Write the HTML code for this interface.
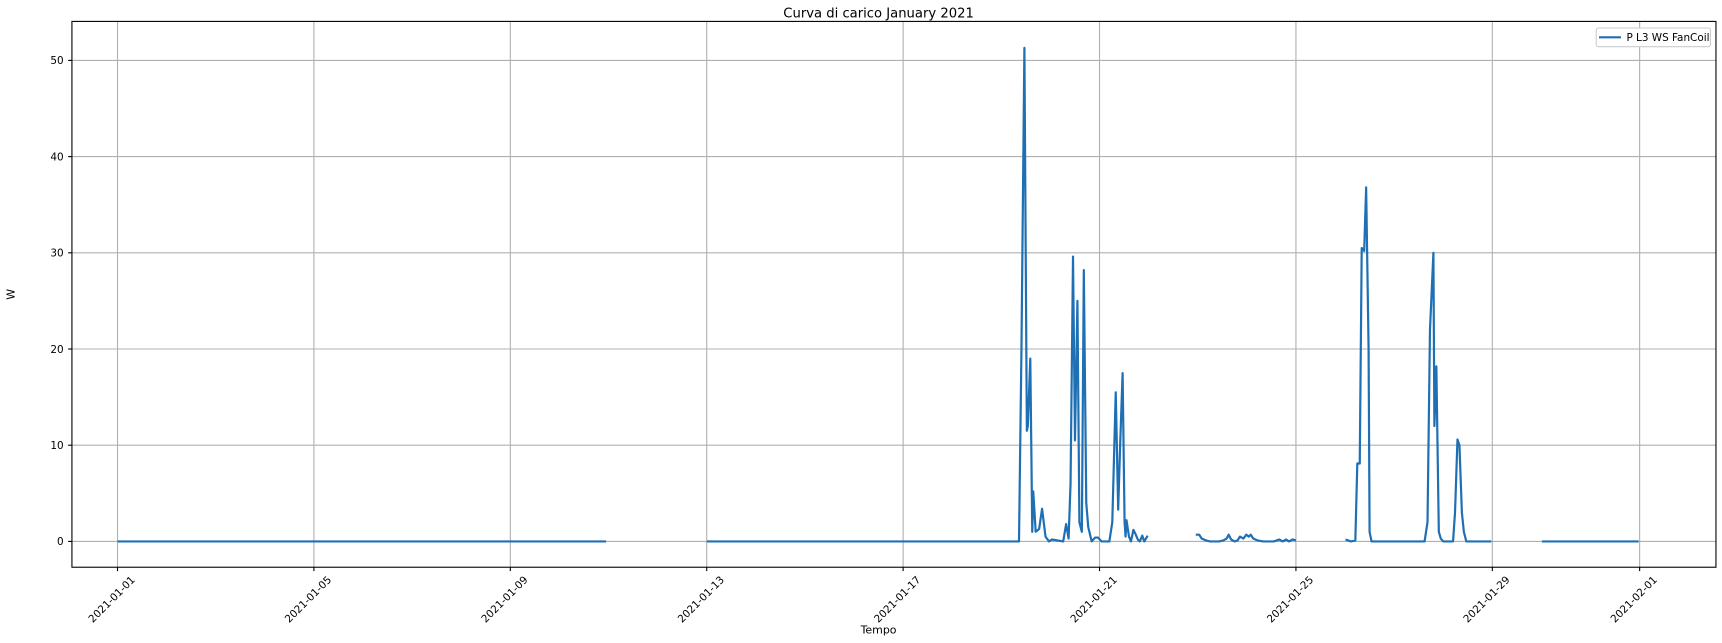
<!DOCTYPE html>
<html><head><meta charset="utf-8"><style>
body{margin:0;background:#fff;}
svg{display:block;font-family:"DejaVu Sans","Liberation Sans",sans-serif;}
</style></head><body>
<svg id="chart" width="1722" height="643" viewBox="0 0 1568 585.5" preserveAspectRatio="none">
<rect x="0" y="0" width="1568" height="585.5" fill="#fff"/>
<text x="800" y="16" font-size="12" text-anchor="middle">Curva di carico January 2021</text>
<text x="800" y="577" font-size="10" text-anchor="middle">Tempo</text>
<text x="13" y="268" font-size="10" text-anchor="middle" transform="rotate(-90 13 268)">W</text>
<g id="grid"></g><g id="ticks"></g><g id="series"></g>
<rect x="65.5" y="19.5" width="1497" height="497" fill="none" stroke="#000" stroke-width="1"/>
<g>
<rect x="1453.5" y="25.5" width="104" height="17" rx="2" fill="#fff" stroke="#ccc"/>
<line x1="1456" y1="34" x2="1476" y2="34" stroke="#1f6fb4" stroke-width="2"/>
<text x="1481" y="37.5" font-size="9.5">P L3 WS FanCoil</text>
</g>
</svg>
<script>
const xTickDays=[0,4,8,12,16,20,24,28,31];
const xTickLabels=["2021-01-01","2021-01-05","2021-01-09","2021-01-13","2021-01-17","2021-01-21","2021-01-25","2021-01-29","2021-02-01"];
const yTicks=[0,10,20,30,40,50];
const days=[0,9.95,null,12,18.36,18.41,18.47,18.52,18.54,18.59,18.63,18.65,18.70,18.77,18.83,18.90,18.97,19.03,19.26,19.32,19.37,19.41,19.46,19.50,19.55,19.59,19.64,19.68,19.73,19.77,19.84,19.91,19.97,20.04,20.20,20.26,20.33,20.38,20.42,20.47,20.51,20.53,20.55,20.60,20.64,20.69,20.73,20.78,20.82,20.87,20.91,20.98,null,
21.96,22.03,22.08,22.17,22.25,22.34,22.43,22.52,22.59,22.63,22.68,22.75,22.81,22.86,22.93,22.99,23.04,23.08,23.13,23.22,23.33,23.55,23.66,23.73,23.80,23.86,23.93,24.00,null,
25.01,25.12,25.21,25.25,25.30,25.34,25.39,25.43,25.48,25.50,25.54,26.62,26.68,26.73,26.80,26.82,26.86,26.91,26.95,27.00,27.20,27.24,27.29,27.33,27.38,27.42,27.47,27.98,null,29.01,30.98];
const watts=[0,0,null,0,0,20,51.3,11.5,12,19,1,5.2,1,1.3,3.4,0.5,0,0.2,0,1.8,0.3,6,29.6,10.5,25,2,1,28.2,4,1.5,0,0.4,0.4,0,0,2,15.5,3.3,10,17.5,2,0.5,2.2,0.5,0,1.2,0.8,0.2,0,0.6,0,0.6,null,
0.7,0.7,0.3,0.1,0,0,0,0.1,0.3,0.7,0.2,0,0.1,0.5,0.3,0.7,0.5,0.7,0.3,0.1,0,0,0.2,0,0.2,0,0.2,0.1,null,
0.2,0,0.1,8.1,8.1,30.5,30.2,36.8,20,1,0,0,2,22,30,12,18.2,1,0.3,0,0,3,10.6,10,3,1,0,0,null,0,0];
const NS="http://www.w3.org/2000/svg";
const X0=107,X1=1493,Y0=493,Y50=55;
function xs(d){return X0+(X1-X0)*d/31;}
function ys(v){return Y0+(Y50-Y0)*v/50;}
const grid=document.getElementById('grid'),ticks=document.getElementById('ticks'),ser=document.getElementById('series');
xTickDays.forEach((d,i)=>{
 const x=xs(d);
 const l=document.createElementNS(NS,'line');
 l.setAttribute('x1',x);l.setAttribute('x2',x);l.setAttribute('y1',19.5);l.setAttribute('y2',516.5);
 l.setAttribute('stroke','#b0b0b0');l.setAttribute('stroke-width','1');
 
 
 grid.appendChild(l);
 const t=document.createElementNS(NS,'line');
 t.setAttribute('x1',x);t.setAttribute('x2',x);t.setAttribute('y1',516.5);t.setAttribute('y2',520);t.setAttribute('stroke','#000');
 
 
 ticks.appendChild(t);
 const cx=x-3,cy=548;
 const tx=document.createElementNS(NS,'text');
 tx.setAttribute('x',cx);tx.setAttribute('y',cy);tx.setAttribute('font-size','9.5');tx.setAttribute('text-anchor','middle');
 tx.setAttribute('transform','rotate(-45 '+cx+' '+cy+')');
 tx.textContent=xTickLabels[i];
 
 
 ticks.appendChild(tx);
});
yTicks.forEach(v=>{
 const y=ys(v);
 const l=document.createElementNS(NS,'line');
 l.setAttribute('x1',65.5);l.setAttribute('x2',1562.5);l.setAttribute('y1',y);l.setAttribute('y2',y);
 l.setAttribute('stroke','#b0b0b0');l.setAttribute('stroke-width','1');
 
 
 grid.appendChild(l);
 const t=document.createElementNS(NS,'line');
 t.setAttribute('x1',62);t.setAttribute('x2',65.5);t.setAttribute('y1',y);t.setAttribute('y2',y);t.setAttribute('stroke','#000');
 
 
 ticks.appendChild(t);
 const tx=document.createElementNS(NS,'text');
 tx.setAttribute('x',58);tx.setAttribute('y',y+3.5);tx.setAttribute('font-size','9.5');tx.setAttribute('text-anchor','end');
 tx.textContent=v;
 
 
 ticks.appendChild(tx);
});
let d='',pen=false;
for(let i=0;i<days.length;i++){
 if(days[i]===null||watts[i]===null){pen=false;continue;}
 d+=(pen?'L':'M')+xs(days[i]).toFixed(2)+' '+ys(watts[i]).toFixed(2);pen=true;
}
const p=document.createElementNS(NS,'path');
p.setAttribute('d',d);p.setAttribute('fill','none');p.setAttribute('stroke','#1f6fb4');p.setAttribute('stroke-width','2');p.setAttribute('stroke-linejoin','round');


ser.appendChild(p);
</script>
</body></html>
